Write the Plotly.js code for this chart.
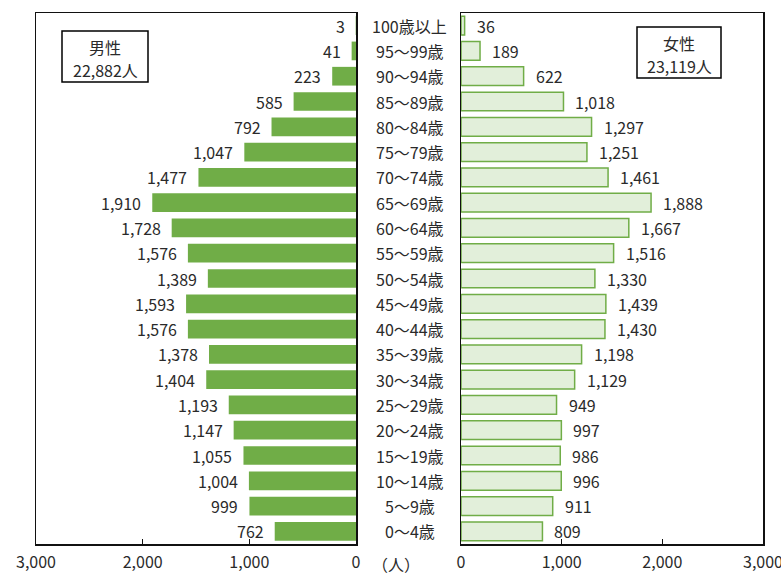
<!DOCTYPE html>
<html>
<head>
<meta charset="utf-8">
<script src="https://cdn.plot.ly/plotly-3.0.1.min.js"></script>
<style>html,body{margin:0;padding:0;background:#fff;}</style>
</head>
<body>
<div id="chart" style="width:781px;height:574px;"></div>
<script>
const ageGroups = ["0～4歳","5～9歳","10～14歳","15～19歳","20～24歳","25～29歳","30～34歳","35～39歳","40～44歳","45～49歳","50～54歳","55～59歳","60～64歳","65～69歳","70～74歳","75～79歳","80～84歳","85～89歳","90～94歳","95～99歳","100歳以上"];
const maleValues = [762, 999, 1004, 1055, 1147, 1193, 1404, 1378, 1576, 1593, 1389, 1576, 1728, 1910, 1477, 1047, 792, 585, 223, 41, 3];
const femaleValues = [809, 911, 996, 986, 997, 949, 1129, 1198, 1430, 1439, 1330, 1516, 1667, 1888, 1461, 1251, 1297, 1018, 622, 189, 36];
const maleLabel = "男性";
const maleTotal = "22,882人";
const femaleLabel = "女性";
const femaleTotal = "23,119人";
const unitLabel = "（人）";
const tickValues = [0, 1000, 2000, 3000];

const FONT = "'Noto Sans CJK JP', 'Noto Sans', sans-serif";
const W = 781, H = 574;
const TXT = '#2a2a2a';
const fmt = v => v.toLocaleString('en-US');
const px = v => v / W;
const py = v => 1 - v / H;

const traces = [
  {type:'bar', orientation:'h', x: maleValues, y: ageGroups, xaxis:'x', yaxis:'y',
   marker:{color:'#70AD47', line:{width:0}}, width:0.74, hoverinfo:'x+y'},
  {type:'bar', orientation:'h', x: femaleValues, y: ageGroups, xaxis:'x2', yaxis:'y2',
   marker:{color:'#E2EFDA', line:{color:'#70AD47', width:1.5}}, width:0.74, hoverinfo:'x+y'}
];

const annotations = [];
const tf = {size:16,color:TXT,family:FONT};
ageGroups.forEach((g,i)=>{
  annotations.push({x: maleValues[i], y: g, xref:'x', yref:'y', text: fmt(maleValues[i]),
    showarrow:false, xanchor:'right', yanchor:'middle', xshift:-9, font:tf});
  annotations.push({x: femaleValues[i], y: g, xref:'x2', yref:'y2', text: fmt(femaleValues[i]),
    showarrow:false, xanchor:'left', yanchor:'middle', xshift:10, font:tf});
  annotations.push({x: px(410), y: g, xref:'paper', yref:'y', text: g,
    showarrow:false, xanchor:'center', yanchor:'middle', font:tf});
});
[[maleLabel,105,47],[maleTotal,105,70],[femaleLabel,679,43],[femaleTotal,679,66],[unitLabel,396,564]].forEach(([t,x,y])=>{
  annotations.push({x:px(x), y:py(y), xref:'paper', yref:'paper', text:t, showarrow:false,
    xanchor:'center', yanchor:'middle', font:tf});
});

const shapes = [
  {type:'rect', xref:'paper', yref:'paper', x0:px(62), x1:px(148), y0:py(31), y1:py(82), line:{color:'#000', width:1.5}, fillcolor:'rgba(0,0,0,0)'},
  {type:'rect', xref:'paper', yref:'paper', x0:px(637), x1:px(721), y0:py(27), y1:py(78), line:{color:'#000', width:1.5}, fillcolor:'rgba(0,0,0,0)'}
];

const xCommon = {showline:true, mirror:true, linecolor:'#111', linewidth:1.5, ticks:'inside', ticklen:5,
  tickcolor:'#111', tickwidth:1.5, tickvals: tickValues, tickformat:',d', showgrid:false, zeroline:false,
  ticklabelstandoff:3, ticklabeloverflow:'allow',
  tickfont:tf, fixedrange:true};
const yCommon = {type:'category', range:[-0.5, 20.5], showline:true, mirror:true, linecolor:'#111', linewidth:1.5,
  showticklabels:false, ticks:'', showgrid:false, zeroline:false, domain:[30/H, 561/H], fixedrange:true};

const layout = {
  width: W, height: H, margin:{l:0,r:0,t:0,b:0}, paper_bgcolor:'#fff', plot_bgcolor:'#fff',
  showlegend:false, font:{family:FONT},
  xaxis: Object.assign({}, xCommon, {domain:[px(36), px(356)], range:[3000, 0], anchor:'y'}),
  xaxis2: Object.assign({}, xCommon, {domain:[px(461), px(763)], range:[0, 3000], anchor:'y2'}),
  yaxis: Object.assign({}, yCommon, {anchor:'x', categoryorder:'array', categoryarray: ageGroups}),
  yaxis2: Object.assign({}, yCommon, {anchor:'x2', matches:'y', categoryorder:'array', categoryarray: ageGroups}),
  annotations: annotations,
  shapes: shapes
};

Plotly.newPlot('chart', traces, layout, {displayModeBar:false, staticPlot:true});
</script>
</body>
</html>
